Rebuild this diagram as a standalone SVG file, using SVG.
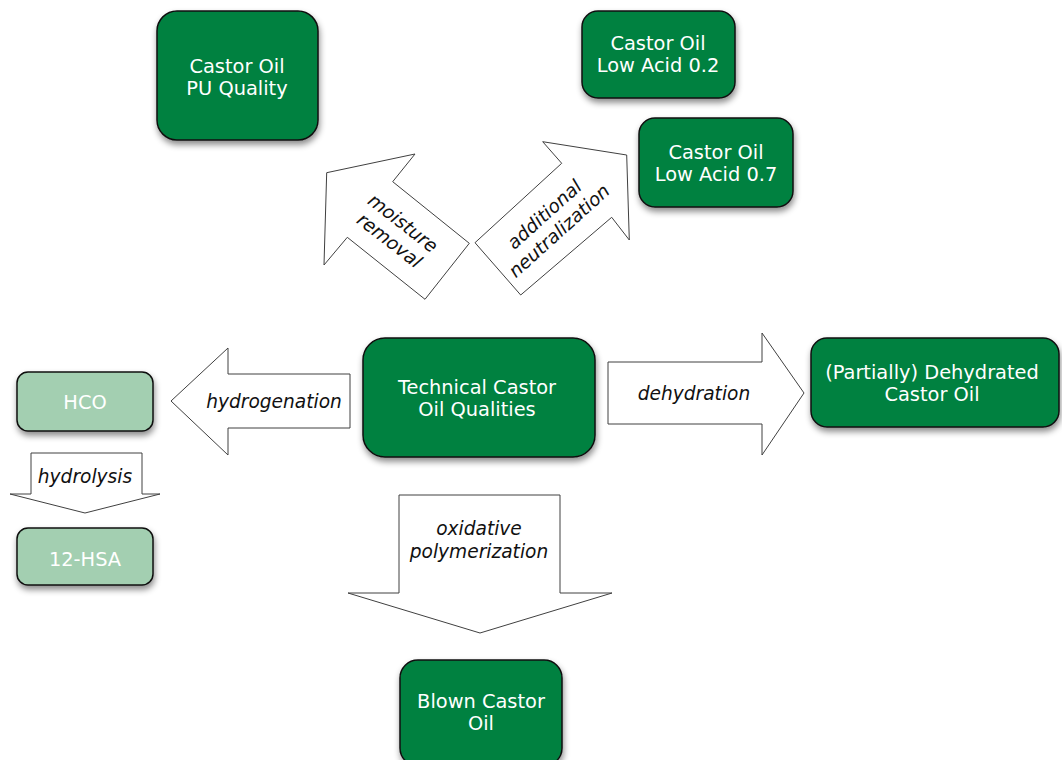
<svg xmlns="http://www.w3.org/2000/svg" width="1062" height="760" viewBox="0 0 1062 760">
<defs>
<filter id="sh" x="-20%" y="-20%" width="140%" height="150%">
<feDropShadow dx="1" dy="4" stdDeviation="3" flood-color="#000" flood-opacity="0.45"/>
</filter>
</defs>
<style>
.n{fill:#038141;stroke:#111;stroke-width:1.5;filter:url(#sh)}
.l{fill:#a3cfb1;stroke:#111;stroke-width:1.5;filter:url(#sh)}
.t{font-family:"DejaVu Sans","Verdana",sans-serif;font-size:19.4px;fill:#fff;text-anchor:middle}
.a{fill:#fff;stroke:#404040;stroke-width:1}
.i{font-family:"DejaVu Sans","Verdana",sans-serif;font-size:18.6px;font-style:italic;fill:#111;text-anchor:middle}
</style>
<rect width="1062" height="760" fill="#fff"/>
<g id="connectors">
<g id="arrow-moisture">
<polygon class="a" points="326.7,172.7 415,154 392.7,181.7 469.3,243.3 425,299.3 347.3,237.3 324,265"/>
<g transform="translate(396,232) rotate(38)"><text class="i" x="0" y="-5">moisture</text><text class="i" x="0" y="17">removal</text></g>
</g>
<g id="arrow-neutralization">
<polygon class="a" points="542.7,141.7 626.7,155 629.3,240 611.7,217.3 520.7,295 475,242.7 561.7,163.3"/>
<g transform="translate(552,223) rotate(-42)"><text class="i" x="0" y="-5">additional</text><text class="i" x="0" y="17">neutralization</text></g>
</g>
<g id="arrow-hydrogenation">
<polygon class="a" points="171,401 228,348 228,374 350,374 350,428 228,428 228,455"/>
<text class="i" x="274" y="408">hydrogenation</text>
</g>
<g id="arrow-dehydration">
<polygon class="a" points="608,362 762,362 762,333 804,393 762,455 762,424 608,424"/>
<text class="i" x="694" y="400">dehydration</text>
</g>
<g id="arrow-hydrolysis">
<polygon class="a" points="31,453 142,453 142,494 160,494 85,513 10,494 31,494"/>
<text class="i" x="85" y="483">hydrolysis</text>
</g>
<g id="arrow-oxidative">
<polygon class="a" points="399,495 560,495 560,593 612,593 480,633 348,593 399,593"/>
<text class="i" x="479" y="535">oxidative</text>
<text class="i" x="479" y="558">polymerization</text>
</g>
</g>
<g id="node-pu">
<rect class="n" x="157" y="11" width="161" height="129" rx="20"/>
<text class="t" x="237" y="73">Castor Oil</text>
<text class="t" x="237" y="95">PU Quality</text>
</g>
<g id="node-la02">
<rect class="n" x="582" y="11" width="153" height="87" rx="16"/>
<text class="t" x="658" y="50">Castor Oil</text>
<text class="t" x="658" y="72">Low Acid 0.2</text>
</g>
<g id="node-la07">
<rect class="n" x="639" y="118" width="154" height="89" rx="16"/>
<text class="t" x="716" y="159">Castor Oil</text>
<text class="t" x="716" y="181">Low Acid 0.7</text>
</g>
<g id="node-technical">
<rect class="n" x="363" y="338" width="232" height="119" rx="22"/>
<text class="t" x="477" y="394">Technical Castor</text>
<text class="t" x="477" y="416">Oil Qualities</text>
</g>
<g id="node-dehydrated">
<rect class="n" x="811" y="338" width="248" height="89" rx="16"/>
<text class="t" x="932" y="379">(Partially) Dehydrated</text>
<text class="t" x="932" y="401">Castor Oil</text>
</g>
<g id="node-hco">
<rect class="l" x="17" y="372" width="136" height="59" rx="11"/>
<text class="t" x="85" y="409">HCO</text>
</g>
<g id="node-12hsa">
<rect class="l" x="17" y="528" width="136" height="57" rx="11"/>
<text class="t" x="85" y="566">12-HSA</text>
</g>
<g id="node-blown">
<rect class="n" x="400" y="660" width="162" height="106" rx="18"/>
<text class="t" x="481" y="708">Blown Castor</text>
<text class="t" x="481" y="730">Oil</text>
</g>
</svg>
